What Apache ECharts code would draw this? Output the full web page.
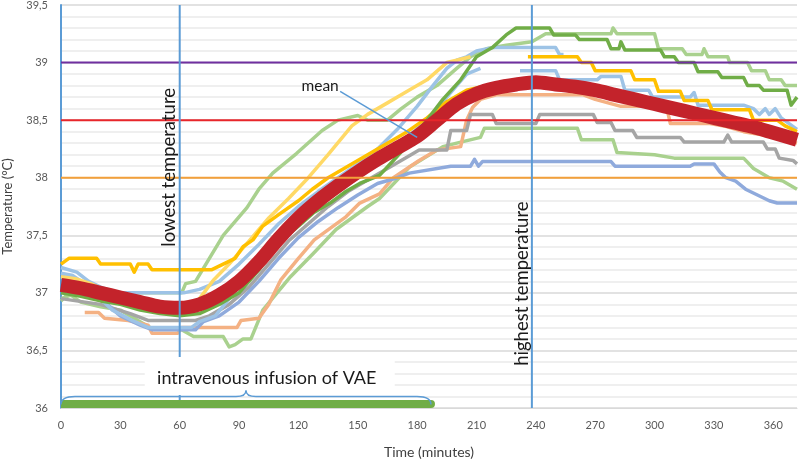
<!DOCTYPE html>
<html><head><meta charset="utf-8">
<script src="https://cdn.jsdelivr.net/npm/echarts/dist/echarts.min.js"></script>
<style>html,body{margin:0;padding:0;background:#fff}#c{width:800px;height:460px}</style>
</head><body><div id="c"></div>
<script>
// ---- data (minutes, °C) ----
const xTickStep = 30;
const xMax = 372;
const yMin = 36, yMax = 39.5, yStep = 0.5;

const meanTemp = [[0,37.07],[10,37.04],[20,37.0],[30,36.96],[40,36.92],[50,36.88],[60,36.87],[70,36.9],[80,36.98],[90,37.1],[100,37.27],[110,37.47],[120,37.65],[130,37.8],[140,37.93],[150,38.05],[160,38.16],[170,38.26],[180,38.36],[190,38.5],[200,38.64],[210,38.73],[220,38.78],[230,38.81],[240,38.83],[250,38.81],[260,38.79],[270,38.76],[280,38.72],[290,38.68],[300,38.64],[310,38.6],[320,38.56],[330,38.52],[340,38.48],[350,38.44],[360,38.39],[372,38.33]];

const gold = [[0,37.25],[4,37.3],[18,37.3],[20,37.25],[35,37.25],[37,37.18],[39,37.25],[44,37.25],[46,37.2],[76,37.2],[82,37.25],[88,37.3],[92,37.4],[97,37.46],[102,37.58],[110,37.68],[120,37.8],[127,37.9],[135,38.0],[145,38.1],[155,38.2],[165,38.3],[175,38.4],[185,38.52],[195,38.66],[205,38.76],[215,38.8],[228,38.82],[232,'-'],[236,39.05],[261,39.05],[263,39.0],[268,39.0],[270,38.93],[288,38.93],[290,38.85],[300,38.85],[302,38.75],[313,38.75],[315,38.67],[327,38.67],[329,38.59],[348,38.59],[350,38.5],[362,38.5],[366,38.45],[372,38.4]];

const paleYellow = [[0,37.14],[8,37.12],[15,37.08],[25,37.0],[35,36.95],[45,36.9],[55,36.86],[62,36.86],[70,36.95],[77,37.11],[85,37.25],[95,37.45],[105,37.65],[115,37.82],[125,38.0],[135,38.2],[147,38.45],[155,38.55],[165,38.65],[175,38.75],[185,38.85],[195,39.0],[200,39.02],[207,39.05]];

const lightGreenHigh = [[0,36.93],[4,37.0],[61,37.0],[63,37.08],[68,37.1],[75,37.3],[82,37.5],[94,37.74],[100,37.9],[107,38.04],[119,38.21],[132,38.41],[140,38.5],[150,38.54],[155,38.5],[165,38.5],[172,38.6],[180,38.7],[190,38.8],[200,38.95],[207,39.05],[215,39.12],[225,39.15],[238,39.18],[245,39.25],[278,39.25],[279,39.3],[281,39.25],[300,39.25],[302,39.12],[314,39.12],[316,39.07],[324,39.07],[325,39.12],[327,39.05],[337,39.05],[338,39.0],[347,39.0],[349,38.93],[356,38.93],[358,38.85],[364,38.85],[366,38.8],[372,38.8]];

const lightGreenLow = [[0,36.95],[5,36.98],[10,36.92],[20,36.88],[30,36.85],[40,36.75],[45,36.7],[61,36.68],[67,36.62],[82,36.62],[85,36.53],[88,36.55],[92,36.6],[96,36.6],[102,36.85],[116,37.14],[128,37.35],[139,37.55],[155,37.75],[161,37.82],[176,38.09],[193,38.27],[200,38.3],[212,38.35],[214,38.43],[261,38.43],[263,38.33],[279,38.33],[281,38.22],[300,38.2],[310,38.17],[345,38.17],[350,38.08],[358,38.0],[365,37.97],[372,37.9]];

const green = [[0,37.0],[10,36.97],[20,36.93],[30,36.9],[40,36.85],[50,36.82],[60,36.8],[70,36.82],[80,36.9],[90,37.0],[100,37.2],[111,37.45],[120,37.58],[128,37.7],[136,37.78],[144,37.88],[151,37.95],[161,38.02],[168,38.15],[176,38.3],[185,38.5],[193,38.68],[202,38.85],[210,39.05],[218,39.13],[225,39.24],[230,39.3],[247,39.3],[249,39.24],[260,39.24],[262,39.2],[276,39.2],[278,39.12],[282,39.12],[283,39.18],[285,39.11],[303,39.11],[305,39.05],[310,39.05],[312,39.0],[320,39.0],[322,38.92],[332,38.92],[334,38.87],[345,38.87],[347,38.8],[353,38.8],[355,38.76],[367,38.76],[369,38.63],[372,38.7]];

const lightBlueA = [[0,37.22],[8,37.18],[14,37.1],[20,37.05],[28,37.0],[62,37.0],[70,37.03],[80,37.1],[90,37.25],[100,37.42],[110,37.6],[120,37.75],[130,37.88],[140,38.0],[150,38.12],[160,38.25],[170,38.42],[180,38.62],[188,38.8],[195,38.95],[200,39.02],[205,39.05],[210,39.1],[218,39.13],[250,39.13],[252,39.07],[254,39.07]];

const lightBlueB = [[0,37.17],[6,37.15],[12,37.08],[20,36.95],[26,36.85],[36,36.76],[44,36.7],[66,36.7],[70,36.75],[78,36.8],[85,36.95],[95,37.15],[105,37.35],[115,37.55],[125,37.7],[135,37.85],[145,37.97],[155,38.1],[165,38.22],[175,38.35],[185,38.5],[195,38.7],[205,38.9],[212,38.95],[214,'-'],[232,38.93],[250,38.93],[252,38.85],[271,38.85],[273,38.88],[283,38.88],[285,38.76],[297,38.76],[299,38.7],[318,38.7],[320,38.74],[322,38.63],[345,38.63],[350,38.6],[353,38.55],[356,38.6],[358,38.55],[361,38.6],[364,38.52],[368,38.47],[372,38.42]];

const blue = [[0,37.15],[10,37.1],[20,36.95],[30,36.8],[40,36.72],[46,36.68],[68,36.68],[72,36.75],[80,36.8],[90,36.92],[100,37.1],[110,37.3],[120,37.48],[130,37.62],[140,37.74],[150,37.85],[160,37.95],[170,38.0],[176,38.04],[197,38.1],[207,38.1],[209,38.16],[211,38.1],[213,38.14],[278,38.14],[280,38.1],[318,38.1],[320,38.12],[330,38.12],[333,38.05],[336,38.0],[341,37.97],[346,37.9],[352,37.85],[358,37.8],[362,37.78],[372,37.78]];

const lightOrange = [[12,36.83],[19,36.83],[22,36.78],[34,36.76],[44,36.72],[46,36.65],[59,36.65],[61,36.7],[89,36.7],[91,36.76],[100,36.78],[105,36.9],[111,37.11],[120,37.3],[128,37.46],[136,37.56],[144,37.66],[151,37.78],[161,37.86],[168,38.0],[181,38.15],[190,38.24],[202,38.27],[205,38.5],[208,38.61],[212,38.68],[220,38.72],[264,38.72],[270,38.68],[283,38.62],[306,38.62],[308,38.47],[328,38.47],[335,38.45],[345,38.4],[355,38.37],[372,38.3]];

const gray = [[0,36.95],[20,36.9],[35,36.82],[44,36.76],[68,36.76],[75,36.8],[85,36.9],[95,37.05],[105,37.25],[115,37.45],[125,37.6],[135,37.75],[145,37.88],[155,37.98],[165,38.08],[175,38.18],[181,38.24],[195,38.24],[197,38.41],[205,38.41],[207,38.55],[218,38.55],[220,38.47],[240,38.47],[242,38.55],[269,38.55],[271,38.48],[278,38.48],[280,38.41],[289,38.41],[291,38.35],[313,38.35],[315,38.31],[335,38.31],[337,38.37],[339,38.31],[355,38.31],[357,38.25],[361,38.25],[363,38.17],[370,38.15],[372,38.12]];

const thresholds = [39, 38.5, 38];
const lowestTime = 60, highestTime = 238;
const infusionStart = 0, infusionEnd = 187;

// ---- chart ----
const FONT = 'Lato, "Open Sans", sans-serif';
const thin = (name, data, color) => ({
  name, type: 'line', data, showSymbol: false, symbol: 'none', connectNulls: false,
  lineStyle: { color, width: 3.5, join: 'round' }, silent: true, z: 2
});
const seg = (data, color, width, z) => ({
  type: 'line', data, showSymbol: false, symbol: 'none', silent: true,
  lineStyle: { color, width, cap: 'butt' }, z
});

const option = {
  animation: false,
  backgroundColor: '#fff',
  textStyle: { fontFamily: FONT },
  grid: { left: 61, right: 3, top: 5, bottom: 52, containLabel: false, outerBoundsMode: 'none' },
  xAxis: {
    type: 'value', min: 0, max: xMax, interval: xTickStep,
    name: 'Time (minutes)', nameLocation: 'middle', nameGap: 37,
    nameTextStyle: { fontSize: 14, color: '#404040', fontFamily: FONT },
    axisLine: { show: true, lineStyle: { color: '#d9d9d9', width: 1 } },
    axisTick: { show: false },
    splitLine: { show: false },
    axisLabel: { fontSize: 11, color: '#595959', margin: 12, fontFamily: FONT,
      formatter: v => (v % xTickStep === 0 ? String(v) : '') }
  },
  yAxis: {
    type: 'value', min: yMin, max: yMax, interval: yStep,
    name: 'Temperature (°C)', nameLocation: 'middle', nameGap: 47,
    nameTextStyle: { fontSize: 13, color: '#404040', fontFamily: FONT },
    axisLine: { show: true, lineStyle: { color: '#5B9BD5', width: 2 } },
    axisTick: { show: false },
    axisLabel: { fontSize: 11, color: '#595959', margin: 13, fontFamily: FONT,
      formatter: v => String(v).replace('.', ',') },
    splitLine: { show: true, lineStyle: { color: '#d9d9d9', width: 1.5 } },
    minorTick: { show: false, splitNumber: 5 },
    minorSplitLine: { show: true, lineStyle: { color: '#eaeaea', width: 1.5 } }
  },
  series: [
    thin('light green high', lightGreenHigh, '#A9D18E'),
    thin('light green low', lightGreenLow, '#A9D18E'),
    thin('light orange', lightOrange, '#F4B183'),
    thin('gray', gray, '#A5A5A5'),
    thin('blue', blue, '#8FAADC'),
    thin('light blue B', lightBlueB, '#9DC3E6'),
    thin('light blue A', lightBlueA, '#9DC3E6'),
    thin('pale yellow', paleYellow, '#FFD966'),
    thin('gold', gold, '#FFC000'),
    thin('green', green, '#70AD47'),
    { name: 'mean', type: 'line', data: meanTemp, smooth: 0.3, showSymbol: false, symbol: 'none',
      lineStyle: { color: '#C3232B', width: 14, join: 'round' }, silent: true, z: 3 },
    seg([[0, thresholds[0]], [xMax, thresholds[0]]], '#7030A0', 2, 4),
    seg([[0, thresholds[1]], [xMax, thresholds[1]]], '#E8262B', 2, 4),
    seg([[0, thresholds[2]], [xMax, thresholds[2]]], '#F3A03A', 2, 4),
    seg([[lowestTime, yMin], [lowestTime, yMax]], '#5B9BD5', 2, 4),
    seg([[highestTime, yMin], [highestTime, yMax]], '#5B9BD5', 2, 4),
    { type: 'line', data: [[infusionStart, 36.035], [infusionEnd, 36.035]], showSymbol: false, symbol: 'none',
      silent: true, lineStyle: { color: '#70AD47', width: 8, cap: 'butt' }, z: 4 }
  ]
};

const chart = echarts.init(document.getElementById('c'));
chart.setOption(option);

const P = (t, v) => chart.convertToPixel({ gridIndex: 0 }, [t, v]);
const a = P(infusionStart, 36.1), b = P(infusionEnd, 36.1), mid = P((infusionStart + infusionEnd) / 2, 36.1);
const y0 = a[1];
const barEnd = P(infusionEnd, 36.035);
const braceStroke = { stroke: '#5B9BD5', lineWidth: 1.5, fill: null };
const txtInf = P(104, 36.26);
const lowP = P(lowestTime, 38.09);
const highP = P(highestTime, 37.08);
const meanEnd = P(180, 38.35);

chart.setOption({
  graphic: [
    { type: 'rect', z: 100, silent: true,
      shape: { x: txtInf[0] - 122, y: txtInf[1] - 21, width: 250, height: 38 },
      style: { fill: '#ffffff' } },
    { type: 'text', z: 101, silent: true, x: txtInf[0], y: txtInf[1],
      style: { text: 'intravenous infusion of VAE', font: '18px ' + FONT, fill: '#1a1a1a', align: 'center', verticalAlign: 'middle' } },
    // rounded right end of the infusion bar
    { type: 'circle', z: 5, silent: true, shape: { cx: barEnd[0], cy: barEnd[1], r: 4 }, style: { fill: '#70AD47' } },
    // curly brace over the infusion period
    { type: 'bezierCurve', z: 101, silent: true,
      shape: { x1: a[0], y1: y0 + 8, cpx1: a[0], cpy1: y0, x2: a[0] + 14, y2: y0 }, style: braceStroke },
    { type: 'line', z: 101, silent: true,
      shape: { x1: a[0] + 14, y1: y0, x2: mid[0] - 10, y2: y0 }, style: braceStroke },
    { type: 'bezierCurve', z: 101, silent: true,
      shape: { x1: mid[0] - 10, y1: y0, cpx1: mid[0], cpy1: y0, x2: mid[0], y2: y0 - 6 }, style: braceStroke },
    { type: 'bezierCurve', z: 101, silent: true,
      shape: { x1: mid[0], y1: y0 - 6, cpx1: mid[0], cpy1: y0, x2: mid[0] + 10, y2: y0 }, style: braceStroke },
    { type: 'line', z: 101, silent: true,
      shape: { x1: mid[0] + 10, y1: y0, x2: b[0] - 14, y2: y0 }, style: braceStroke },
    { type: 'bezierCurve', z: 101, silent: true,
      shape: { x1: b[0] - 14, y1: y0, cpx1: b[0], cpy1: y0, x2: b[0], y2: y0 + 8 }, style: braceStroke },
    { type: 'text', z: 101, silent: true, x: lowP[0] - 11, y: lowP[1], rotation: Math.PI / 2,
      style: { text: 'lowest temperature', font: '18.5px ' + FONT, fill: '#1a1a1a', align: 'center', verticalAlign: 'middle' } },
    { type: 'text', z: 101, silent: true, x: highP[0] - 10, y: highP[1], rotation: Math.PI / 2,
      style: { text: 'highest temperature', font: '18.5px ' + FONT, fill: '#1a1a1a', align: 'center', verticalAlign: 'middle' } },
    { type: 'line', z: 101, silent: true,
      shape: { x1: meanEnd[0] - 77, y1: meanEnd[1] - 46, x2: meanEnd[0], y2: meanEnd[1] },
      style: { stroke: '#5B9BD5', lineWidth: 1.5 } },
    { type: 'text', z: 101, silent: true, x: meanEnd[0] - 97, y: meanEnd[1] - 51,
      style: { text: 'mean', font: '15.5px ' + FONT, fill: '#1a1a1a', align: 'center', verticalAlign: 'middle' } }
  ]
});
</script></body></html>
